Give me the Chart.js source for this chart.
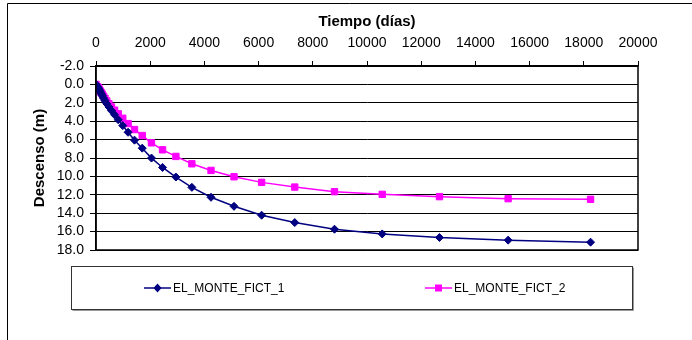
<!DOCTYPE html>
<html>
<head>
<meta charset="utf-8">
<script src="https://cdn.jsdelivr.net/npm/chart.js@4/dist/chart.umd.min.js"></script>
<style>
html,body{margin:0;padding:0;background:#fff;}
#wrap{width:692px;height:340px;}
</style>
</head>
<body>
<div id="wrap"><canvas id="c" width="692" height="340"></canvas></div>
<script>
// Time (days)
const tiempo = [0, 64, 77, 92, 110, 133, 159, 191, 229, 275, 330, 396, 476, 571, 685, 822, 987, 1184, 1421, 1706, 2047, 2456, 2948, 3537, 4244, 5093, 6112, 7334, 8801, 10561, 12674, 15208, 18250];
// Drawdown (m), series 1
const fict1 = [0, 0.30, 0.37, 0.45, 0.55, 0.67, 0.82, 1.00, 1.22, 1.47, 1.75, 2.10, 2.45, 2.85, 3.30, 3.85, 4.48, 5.20, 6.06, 6.93, 8.01, 9.03, 10.07, 11.19, 12.27, 13.25, 14.22, 15.02, 15.74, 16.25, 16.64, 16.93, 17.15];
// Drawdown (m), series 2
const fict2 = [0, 0.28, 0.34, 0.41, 0.50, 0.60, 0.73, 0.88, 1.05, 1.27, 1.50, 1.80, 2.10, 2.45, 2.80, 3.20, 3.68, 4.26, 4.91, 5.56, 6.35, 7.11, 7.83, 8.63, 9.35, 10.04, 10.65, 11.16, 11.66, 11.95, 12.20, 12.42, 12.49];
const seriesNames = ["EL_MONTE_FICT_1", "EL_MONTE_FICT_2"];
const xTitle = "Tiempo (días)";
const yTitle = "Descenso (m)";
const xMin = 0, xMax = 20000, xStep = 2000;
const yMin = -2, yMax = 18, yStep = 2;

const FONT = "'Liberation Sans', Arial, sans-serif";

const framePlugin = {
  id: 'frame',
  beforeDraw(chart) {
    const ctx = chart.ctx;
    ctx.save();
    ctx.fillStyle = '#fff';
    ctx.fillRect(0, 0, chart.width, chart.height);
    ctx.strokeStyle = '#000';
    ctx.lineWidth = 1;
    ctx.beginPath();
    ctx.moveTo(7.5, chart.height);
    ctx.lineTo(7.5, 3.5);
    ctx.lineTo(chart.width, 3.5);
    ctx.stroke();
    ctx.restore();
  },
  afterDatasetsDraw(chart) {
    const ctx = chart.ctx;
    const a = chart.chartArea;
    ctx.save();
    ctx.strokeStyle = '#000';
    ctx.lineWidth = 1.5;
    ctx.strokeRect(a.left, a.top, a.right - a.left, a.bottom - a.top);
    // legend box
    ctx.strokeStyle = '#333';
    ctx.lineWidth = 1;
    ctx.strokeRect(71.5, 266.5, 561, 43);
    ctx.strokeStyle = '#999';
    ctx.beginPath();
    ctx.moveTo(633.5, 267.5); ctx.lineTo(633.5, 310.5); ctx.lineTo(72.5, 310.5);
    ctx.stroke();
    const items = [{x: 144, ds: 0}, {x: 425, ds: 1}];
    const ly = 288;
    items.forEach(it => {
      const ds = chart.data.datasets[it.ds];
      ctx.strokeStyle = ds.borderColor;
      ctx.lineWidth = 1.5;
      ctx.beginPath();
      ctx.moveTo(it.x, ly); ctx.lineTo(it.x + 27, ly);
      ctx.stroke();
      const cx = it.x + 13.5;
      ctx.fillStyle = ds.pointBackgroundColor;
      ctx.beginPath();
      if (ds.pointStyle === 'rectRot') {
        ctx.moveTo(cx, ly - 4.5); ctx.lineTo(cx + 4, ly); ctx.lineTo(cx, ly + 4.5); ctx.lineTo(cx - 4, ly); ctx.closePath();
      } else {
        ctx.rect(cx - 3.5, ly - 3.5, 7, 7);
      }
      ctx.fill();
      ctx.fillStyle = '#000';
      ctx.font = '12px ' + FONT;
      ctx.textBaseline = 'middle';
      ctx.textAlign = 'left';
      ctx.fillText(ds.label, it.x + 29, ly + 1);
    });
    ctx.restore();
  }
};

const toPts = (xs, ys) => xs.map((x, i) => ({x: x, y: ys[i]}));

new Chart(document.getElementById('c'), {
  type: 'line',
  data: {
    datasets: [
      {
        label: seriesNames[0],
        data: toPts(tiempo, fict1),
        borderColor: '#000080',
        backgroundColor: '#000080',
        pointBackgroundColor: '#000080',
        pointBorderColor: '#000080',
        pointStyle: 'rectRot',
        pointRadius: 4,
        pointBorderWidth: 1,
        borderWidth: 1.5,
        tension: 0,
        fill: false
      },
      {
        label: seriesNames[1],
        data: toPts(tiempo, fict2),
        borderColor: '#FF00FF',
        backgroundColor: '#FF00FF',
        pointBackgroundColor: '#FF00FF',
        pointBorderColor: '#FF00FF',
        pointStyle: 'rect',
        pointRadius: 4.5,
        pointBorderWidth: 1,
        borderWidth: 1.5,
        tension: 0,
        fill: false
      }
    ]
  },
  options: {
    responsive: false,
    animation: false,
    layout: { padding: { left: 4, top: 4, right: 54, bottom: 90 } },
    plugins: { legend: { display: false }, tooltip: { enabled: false } },
    scales: {
      x: {
        type: 'linear',
        position: 'top',
        min: xMin, max: xMax,
        afterFit: s => { s.height = 62; },
        ticks: { stepSize: xStep, autoSkip: false, color: '#000', font: { family: FONT, size: 14 }, padding: 9, maxRotation: 0, callback: v => String(v) },
        grid: { drawOnChartArea: false, drawTicks: true, tickLength: 5, color: '#000' },
        border: { display: true, color: '#000', width: 1.5 },
        title: { display: true, text: xTitle, color: '#000', font: { family: FONT, size: 15, weight: 'bold' }, padding: { top: 9, bottom: 0 } }
      },
      y: {
        type: 'linear',
        reverse: true,
        min: yMin, max: yMax,
        afterFit: s => { s.width = 92; },
        ticks: { stepSize: yStep, autoSkip: false, color: '#000', font: { family: FONT, size: 14 }, padding: 6, callback: v => Number(v).toFixed(1) },
        grid: { drawOnChartArea: true, drawTicks: true, tickLength: 6, color: '#000', lineWidth: 1 },
        border: { display: true, color: '#000', width: 1.5 },
        title: { display: true, text: yTitle, color: '#000', font: { family: FONT, size: 15, weight: 'bold' }, padding: { top: 27, bottom: 0 } }
      }
    }
  },
  plugins: [framePlugin]
});
</script>
</body>
</html>
